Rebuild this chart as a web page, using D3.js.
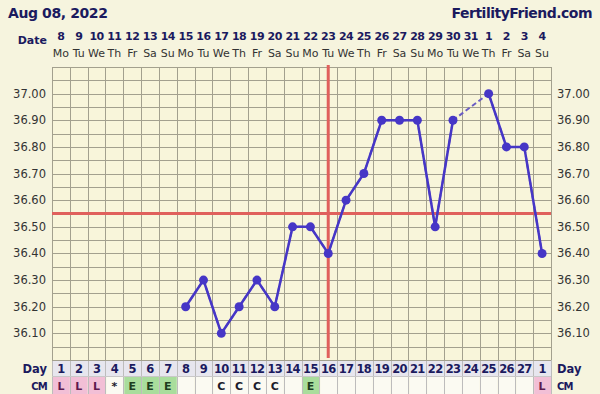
<!DOCTYPE html>
<html>
<head>
<meta charset="utf-8">
<script src="https://cdn.jsdelivr.net/npm/d3@7"></script>
<style>
  body { margin: 0; background: #f6f4de; }
  svg { display: block; font-family: "DejaVu Sans", Verdana, sans-serif; }
</style>
</head>
<body>
<svg width="600" height="394"></svg>
<script>
// chart data
var dates = [8, 9, 10, 11, 12, 13, 14, 15, 16, 17, 18, 19, 20, 21, 22, 23, 24, 25, 26, 27, 28, 29, 30, 31, 1, 2, 3, 4];
var weekdays = ["Mo", "Tu", "We", "Th", "Fr", "Sa", "Su", "Mo", "Tu", "We", "Th", "Fr", "Sa", "Su",
                "Mo", "Tu", "We", "Th", "Fr", "Sa", "Su", "Mo", "Tu", "We", "Th", "Fr", "Sa", "Su"];
var cycleDays = [1, 2, 3, 4, 5, 6, 7, 8, 9, 10, 11, 12, 13, 14, 15, 16, 17, 18, 19, 20, 21, 22, 23, 24, 25, 26, 27, 1];
var temps = [null, null, null, null, null, null, null,
             36.20, 36.30, 36.10, 36.20, 36.30, 36.20, 36.50, 36.50, 36.40,
             36.60, 36.70, 36.90, 36.90, 36.90, 36.50, 36.90, null, 37.00, 36.80, 36.80, 36.40];
var cm = ["L", "L", "L", "*", "E", "E", "E", "", "", "C", "C", "C", "C", "", "E",
          "", "", "", "", "", "", "", "", "", "", "", "", "L"];
var tempTicks = [36.10, 36.20, 36.30, 36.40, 36.50, 36.60, 36.70, 36.80, 36.90, 37.00];
var coverline = 36.55;
var ovulationIndex = 15;

var svg = d3.select("svg");
var width = +svg.attr("width"),
    height = +svg.attr("height");

var gLeft = 52, gRight = 551, gTop = 67, gridBottom = 360;
var dayRowH = 16, cmRowH = 18;

var idx = d3.range(dates.length);
var x = d3.scaleBand().domain(idx).range([gLeft, gRight]);
var y = d3.scaleLinear().domain([36.0, 37.1]).range([gridBottom, gTop]);

var navy = "#1b1a5e";
var gridColor = "#a3a08e";

// header
svg.append("text").attr("x", 8).attr("y", 18)
    .attr("font-size", 14).attr("font-weight", "bold").attr("fill", navy)
    .attr("letter-spacing", -0.4)
    .text("Aug 08, 2022");
svg.append("text").attr("x", 592).attr("y", 18).attr("text-anchor", "end")
    .attr("font-size", 14).attr("font-weight", "bold").attr("fill", navy)
    .attr("letter-spacing", -0.5)
    .text("FertilityFriend.com");

svg.append("text").attr("x", 47).attr("y", 44).attr("text-anchor", "end")
    .attr("font-size", 11).attr("font-weight", "bold").attr("fill", navy)
    .text("Date");

svg.selectAll(".date").data(idx).enter().append("text")
    .attr("class", "date")
    .attr("x", function(i) { return x(i) + x.bandwidth() / 2; })
    .attr("y", 40)
    .attr("text-anchor", "middle")
    .attr("font-size", 11).attr("font-weight", "bold").attr("fill", navy)
    .attr("letter-spacing", -0.5)
    .text(function(i) { return dates[i]; });

svg.selectAll(".wd").data(idx).enter().append("text")
    .attr("class", "wd")
    .attr("x", function(i) { return x(i) + x.bandwidth() / 2; })
    .attr("y", 57)
    .attr("text-anchor", "middle")
    .attr("font-size", 11).attr("fill", "#333")
    .text(function(i) { return weekdays[i]; });

// grid area
svg.append("rect").attr("x", gLeft).attr("y", gTop)
    .attr("width", gRight - gLeft).attr("height", gridBottom - gTop)
    .attr("fill", "#f8f5da");

var hLines = d3.range(0, 23).map(function(k) { return 36.0 + k * 0.05; });
svg.append("g").selectAll("line").data(hLines).enter().append("line")
    .attr("x1", gLeft).attr("x2", gRight)
    .attr("y1", function(d) { return Math.round(y(d)) + 0.5; })
    .attr("y2", function(d) { return Math.round(y(d)) + 0.5; })
    .attr("stroke", gridColor).attr("stroke-width", 1);

var vLines = idx.concat([dates.length]);
svg.append("g").selectAll("line").data(vLines).enter().append("line")
    .attr("x1", function(i) { return Math.round(gLeft + i * x.step()) + 0.5; })
    .attr("x2", function(i) { return Math.round(gLeft + i * x.step()) + 0.5; })
    .attr("y1", gTop).attr("y2", gridBottom)
    .attr("stroke", gridColor).attr("stroke-width", 1);

// temperature labels
[[gLeft - 6, "end"], [gRight + 6, "start"]].forEach(function(s) {
    svg.append("g").selectAll("text").data(tempTicks).enter().append("text")
        .attr("x", s[0]).attr("y", function(d) { return y(d) + 4; })
        .attr("text-anchor", s[1])
        .attr("font-size", 11.5).attr("fill", "#333")
        .text(function(d) { return d.toFixed(2); });
});

// day row
svg.append("rect").attr("x", gLeft).attr("y", gridBottom)
    .attr("width", gRight - gLeft).attr("height", dayRowH)
    .attr("fill", "#e7e6ee");
svg.append("g").selectAll("text").data(idx).enter().append("text")
    .attr("x", function(i) { return x(i) + x.bandwidth() / 2; })
    .attr("y", gridBottom + 12.5)
    .attr("text-anchor", "middle")
    .attr("font-size", 11.5).attr("font-weight", "bold").attr("fill", navy)
    .attr("letter-spacing", -0.7)
    .text(function(i) { return cycleDays[i]; });

// CM row
var cmFill = { "L": "#f2bfd6", "E": "#a9dd9c", "C": "#fbfaf2", "*": "#fbfaf2", "": "#fbfaf2" };
var cmText = { "L": "#5e1a4e", "E": "#1e3d1e", "C": "#1c1c2c", "*": "#1c1c2c" };
var cmTop = gridBottom + dayRowH + 1;
svg.append("g").selectAll("rect").data(idx).enter().append("rect")
    .attr("x", function(i) { return x(i) + 1; })
    .attr("y", cmTop)
    .attr("width", x.bandwidth() - 1).attr("height", cmRowH)
    .attr("fill", function(i) { return cmFill[cm[i]]; });
svg.append("g").selectAll("text").data(idx).enter().append("text")
    .attr("x", function(i) { return x(i) + x.bandwidth() / 2; })
    .attr("y", cmTop + 12.5)
    .attr("text-anchor", "middle")
    .attr("font-size", 11).attr("font-weight", "bold")
    .attr("fill", function(i) { return cmText[cm[i]] || "#000"; })
    .text(function(i) { return cm[i]; });

// row borders
svg.append("g").selectAll("line").data(vLines).enter().append("line")
    .attr("x1", function(i) { return Math.round(gLeft + i * x.step()) + 0.5; })
    .attr("x2", function(i) { return Math.round(gLeft + i * x.step()) + 0.5; })
    .attr("y1", gridBottom).attr("y2", height)
    .attr("stroke", "#bdbcbc").attr("stroke-width", 1);
svg.append("line").attr("x1", gLeft).attr("x2", gRight)
    .attr("y1", gridBottom + 0.5).attr("y2", gridBottom + 0.5)
    .attr("stroke", gridColor);
svg.append("line").attr("x1", gLeft).attr("x2", gRight)
    .attr("y1", gridBottom + dayRowH + 0.5).attr("y2", gridBottom + dayRowH + 0.5)
    .attr("stroke", "#c9c8c8");

svg.append("text").attr("x", 47).attr("y", gridBottom + 12.5).attr("text-anchor", "end")
    .attr("font-size", 11.5).attr("font-weight", "bold").attr("fill", navy).text("Day");
svg.append("text").attr("x", 47).attr("y", cmTop + 12.5).attr("text-anchor", "end")
    .attr("font-size", 10).attr("font-weight", "bold").attr("fill", navy)
    .attr("letter-spacing", -0.8).text("CM");
svg.append("text").attr("x", gRight + 6).attr("y", gridBottom + 12.5)
    .attr("font-size", 11.5).attr("font-weight", "bold").attr("fill", navy).text("Day");
svg.append("text").attr("x", gRight + 6).attr("y", cmTop + 12.5)
    .attr("font-size", 10).attr("font-weight", "bold").attr("fill", navy)
    .attr("letter-spacing", -0.8).text("CM");

// coverline and ovulation line
var red = "#e0605c";
svg.append("line").attr("x1", gLeft).attr("x2", gRight)
    .attr("y1", y(coverline)).attr("y2", y(coverline))
    .attr("stroke", red).attr("stroke-width", 3);
var ovX = x(ovulationIndex) + x.bandwidth() / 2;
svg.append("line").attr("x1", ovX).attr("x2", ovX)
    .attr("y1", gTop - 2).attr("y2", gridBottom - 2)
    .attr("stroke", red).attr("stroke-width", 3);

// temperature line
var pts = idx.filter(function(i) { return temps[i] !== null; });
var lineColor = "#4636c6";
var line = d3.line()
    .x(function(i) { return x(i) + x.bandwidth() / 2; })
    .y(function(i) { return y(temps[i]); });

svg.append("path").datum(pts)
    .attr("d", line)
    .attr("fill", "none").attr("stroke", "#6a5cc4")
    .attr("stroke-width", 2).attr("stroke-dasharray", "5,3");

svg.append("path").datum(idx)
    .attr("d", line.defined(function(i) { return temps[i] !== null; }))
    .attr("fill", "none").attr("stroke", lineColor).attr("stroke-width", 2.5);

svg.append("g").selectAll("circle").data(pts).enter().append("circle")
    .attr("cx", function(i) { return x(i) + x.bandwidth() / 2; })
    .attr("cy", function(i) { return y(temps[i]); })
    .attr("r", 4.5)
    .attr("fill", lineColor);
</script>
</body>
</html>
